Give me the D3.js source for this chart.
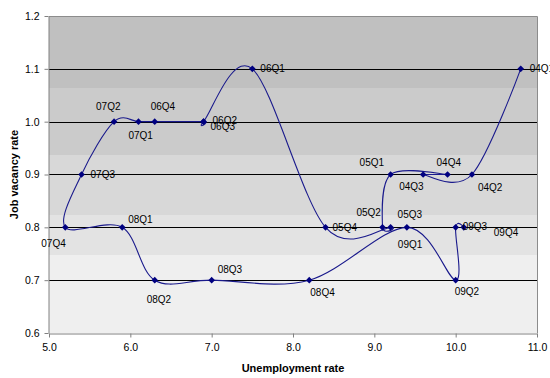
<!DOCTYPE html>
<html>
<head>
<meta charset="utf-8">
<script src="https://cdn.jsdelivr.net/npm/d3@7"></script>
<style>
  html, body { margin: 0; padding: 0; background: #fff; }
  svg text { font-family: "Liberation Sans", Arial, sans-serif; fill: #000; }
</style>
</head>
<body>
<svg id="chart" width="550" height="378"></svg>
<script>
// Quarterly path of the Beveridge curve, 2004Q1 to 2009Q4
const quarters = ["04Q1","04Q2","04Q3","04Q4","05Q1","05Q2","05Q3","05Q4",
                  "06Q1","06Q2","06Q3","06Q4","07Q1","07Q2","07Q3","07Q4",
                  "08Q1","08Q2","08Q3","08Q4","09Q1","09Q2","09Q3","09Q4"];
const unemployment = [10.8, 10.2, 9.6, 9.9, 9.2, 9.1, 9.2, 8.4,
                      7.5, 6.9, 6.9, 6.3, 6.1, 5.8, 5.4, 5.2,
                      5.9, 6.3, 7.0, 8.2, 9.4, 10.0, 10.0, 10.1];
const vacancy = [1.1, 0.9, 0.9, 0.9, 0.9, 0.8, 0.8, 0.8,
                 1.1, 1.0, 1.0, 1.0, 1.0, 1.0, 0.9, 0.8,
                 0.8, 0.7, 0.7, 0.7, 0.8, 0.7, 0.8, 0.8];
const xTicks = [5, 6, 7, 8, 9, 10, 11];
const yTicks = [0.6, 0.7, 0.8, 0.9, 1.0, 1.1, 1.2];

// Label placement relative to each marker: [dx to left edge, dy to text middle]
const labelOffset = {
  "04Q1": [9, 0],   "04Q2": [6, 13],  "04Q3": [-24, 12], "04Q4": [-11, -12],
  "05Q1": [-31, -12], "05Q2": [-26, -15], "05Q3": [7, -13], "05Q4": [7, 0],
  "06Q1": [8, 0],   "06Q2": [9, -1],  "06Q3": [7, 5],    "06Q4": [-4, -15],
  "07Q1": [-10, 14], "07Q2": [-18, -15], "07Q3": [9, 0],  "07Q4": [-24, 16],
  "08Q1": [6, -8],  "08Q2": [-8, 19], "08Q3": [6, -11],  "08Q4": [1, 12],
  "09Q1": [-9, 17], "09Q2": [-1, 11], "09Q3": [7, -1],   "09Q4": [30, 5]
};

const points = quarters.map((q, i) => ({ q, u: unemployment[i], v: vacancy[i] }));

const svg = d3.select("#chart");
const plotLeft = 49, plotRight = 537, plotTop = 16, plotBottom = 333;

const x = d3.scaleLinear().domain([5, 11]).range([plotLeft, plotRight]);
const y = d3.scaleLinear().domain([0.6, 1.2]).range([plotBottom, plotTop]);

// Plot-area fill: stepped grey gradient, darker at the top
const defs = svg.append("defs");
const grad = defs.append("linearGradient")
  .attr("id", "plotFill").attr("x1", 0).attr("y1", 0).attr("x2", 0).attr("y2", 1);
const bands = [
  [0.000, 0.227, "#c0c0c0"],
  [0.227, 0.438, "#cbcbcb"],
  [0.438, 0.628, "#d8d8d8"],
  [0.628, 0.754, "#e3e3e3"],
  [0.754, 1.000, "#efefef"]
];
bands.forEach(([a, b, c]) => {
  grad.append("stop").attr("offset", a).attr("stop-color", c);
  grad.append("stop").attr("offset", b).attr("stop-color", c);
});

svg.append("rect")
  .attr("x", plotLeft).attr("y", plotTop)
  .attr("width", plotRight - plotLeft).attr("height", plotBottom - plotTop)
  .attr("fill", "url(#plotFill)");

// Horizontal gridlines
svg.append("g")
  .selectAll("line")
  .data(yTicks.filter(t => t > 0.6 && t < 1.2))
  .join("line")
  .attr("x1", plotLeft).attr("x2", plotRight)
  .attr("y1", d => Math.round(y(d)) + 0.5).attr("y2", d => Math.round(y(d)) + 0.5)
  .attr("stroke", "#000").attr("stroke-width", 1);

// Plot border (top and right)
svg.append("path")
  .attr("d", `M${plotLeft},${plotTop + 0.5}H${plotRight + 0.5}V${plotBottom}`)
  .attr("fill", "none").attr("stroke", "#8c8c8c");

// Axes
const xAxis = d3.axisBottom(x).tickValues(xTicks).tickFormat(d3.format(".1f"))
  .tickSizeInner(4).tickSizeOuter(0).tickPadding(6);
const yAxis = d3.axisLeft(y).tickValues(yTicks).tickFormat(d3.format(".1f"))
  .tickSizeInner(4).tickSizeOuter(0).tickPadding(5);

const gx = svg.append("g").attr("transform", `translate(0,${plotBottom + 0.5})`).call(xAxis);
const gy = svg.append("g").attr("transform", `translate(${plotLeft - 0.5},0)`).call(yAxis);
[gx, gy].forEach(g => {
  g.select(".domain").attr("stroke", "#808080");
  g.selectAll(".tick line").attr("stroke", "#808080");
  g.selectAll(".tick text")
    .attr("font-family", "'Liberation Sans', Arial, sans-serif")
    .attr("font-size", 10.5).attr("fill", "#000");
});

// Smoothed connecting line
const line = d3.line()
  .x(d => x(d.u)).y(d => y(d.v))
  .curve(d3.curveCardinal.tension(0));

svg.append("path")
  .datum(points)
  .attr("d", line)
  .attr("fill", "none")
  .attr("stroke", "#1a1a8c")
  .attr("stroke-width", 1.1);

// Diamond markers
const r = 3.3;
svg.append("g")
  .selectAll("path")
  .data(points)
  .join("path")
  .attr("transform", d => `translate(${x(d.u)},${y(d.v)})`)
  .attr("d", `M0,${-r}L${r},0L0,${r}L${-r},0Z`)
  .attr("fill", "#000080");

// Quarter labels
svg.append("g")
  .selectAll("text")
  .data(points)
  .join("text")
  .attr("x", d => x(d.u) + labelOffset[d.q][0])
  .attr("y", d => y(d.v) + labelOffset[d.q][1])
  .attr("dy", "0.35em")
  .attr("font-size", 10)
  .attr("fill", "#111")
  .text(d => d.q);

// Axis titles
svg.append("text")
  .attr("x", (plotLeft + plotRight) / 2).attr("y", 372)
  .attr("text-anchor", "middle")
  .attr("font-size", 11).attr("font-weight", "bold")
  .text("Unemployment rate");

svg.append("text")
  .attr("transform", `translate(18,${(plotTop + plotBottom) / 2}) rotate(-90)`)
  .attr("text-anchor", "middle")
  .attr("font-size", 11).attr("font-weight", "bold")
  .text("Job vacancy rate");
</script>
</body>
</html>
